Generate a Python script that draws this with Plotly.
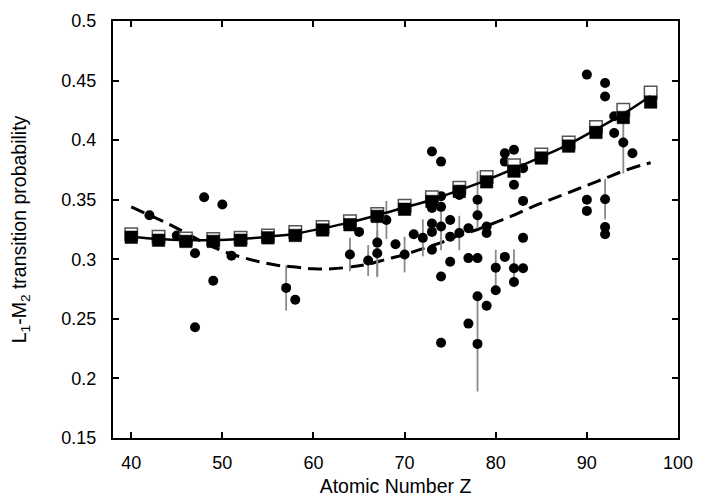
import plotly.graph_objects as go

# Theory values on a 3-Z grid
z_theory = [40, 43, 46, 49, 52, 55, 58, 61, 64, 67, 70, 73, 76, 79, 82, 85, 88, 91, 94, 97]
open_sq = [0.321, 0.319, 0.3175, 0.317, 0.318, 0.320, 0.323, 0.327, 0.332, 0.338,
           0.345, 0.352, 0.360, 0.369, 0.379, 0.388, 0.398, 0.411, 0.4255, 0.440]
filled_sq = [0.3185, 0.316, 0.315, 0.315, 0.316, 0.318, 0.320, 0.3246, 0.329, 0.336,
             0.342, 0.3485, 0.357, 0.365, 0.374, 0.385, 0.395, 0.4065, 0.419, 0.432]
solid_fit = [0.319, 0.317, 0.316, 0.316, 0.317, 0.319, 0.3215, 0.326, 0.331, 0.337,
             0.3435, 0.350, 0.358, 0.3665, 0.376, 0.386, 0.3965, 0.409, 0.422, 0.437]

# dashed curve
z_dash = [40, 42, 44, 46, 48, 50, 52, 54, 56, 58, 60, 62, 64, 66, 68, 70, 72, 74,
          76, 78, 80, 82, 84, 86, 88, 90, 92, 94, 96, 97]
dash_val = [0.344, 0.337, 0.330, 0.322, 0.314, 0.307, 0.302, 0.298, 0.295, 0.2935,
            0.292, 0.292, 0.2935, 0.296, 0.300, 0.304, 0.309, 0.314, 0.320, 0.325,
            0.331, 0.337, 0.344, 0.350, 0.356, 0.362, 0.368, 0.374, 0.379, 0.381]

# experimental points
z_exp = [42, 45, 47, 47, 48, 49, 50, 51, 57, 58,
         64, 65, 66, 67, 67, 68, 69, 70, 71, 72,
         73, 73, 73, 73, 73, 73, 74, 74, 74, 74, 74, 74,
         75, 75, 75, 76, 76, 77, 77, 77,
         78, 78, 78, 78, 78, 79, 79, 79, 80, 80,
         81, 81, 81, 82, 82, 82, 82, 83, 83, 83, 83,
         90, 90, 90, 92, 92, 92, 92, 92, 93, 93, 94, 95]
p_exp = [0.337, 0.320, 0.305, 0.243, 0.352, 0.282, 0.346, 0.303, 0.276, 0.266,
         0.304, 0.323, 0.299, 0.314, 0.305, 0.333, 0.3126, 0.304, 0.321, 0.318,
         0.3905, 0.3485, 0.343, 0.330, 0.323, 0.308, 0.382, 0.353, 0.344, 0.3275, 0.2855, 0.230,
         0.333, 0.319, 0.298, 0.354, 0.322, 0.326, 0.301, 0.246,
         0.350, 0.337, 0.301, 0.269, 0.229, 0.3275, 0.322, 0.261, 0.293, 0.274,
         0.389, 0.382, 0.302, 0.392, 0.3625, 0.2925, 0.281, 0.3765, 0.349, 0.318, 0.2925,
         0.455, 0.350, 0.3406, 0.448, 0.4367, 0.3504, 0.327, 0.321, 0.420, 0.406, 0.398, 0.389]
err_exp = [0, 0, 0, 0, 0, 0, 0, 0, 0.019, 0,
           0.014, 0, 0.013, 0.029, 0.019, 0.016, 0, 0.015, 0, 0.0155,
           0, 0, 0, 0, 0, 0, 0, 0, 0, 0.02, 0, 0,
           0, 0, 0, 0, 0.0145, 0, 0, 0,
           0.024, 0, 0, 0, 0.04, 0, 0, 0, 0.015, 0,
           0, 0, 0, 0, 0, 0.016, 0, 0, 0, 0, 0,
           0, 0, 0, 0, 0, 0.017, 0, 0, 0, 0, 0.026, 0]

fig = go.Figure()

fig.add_trace(go.Scatter(
    x=z_dash, y=dash_val, mode="lines", line_shape="spline",
    line=dict(color="black", width=3, dash="14px,7px")))

fig.add_trace(go.Scatter(
    x=z_exp, y=p_exp, mode="markers",
    marker=dict(color="black", size=10, symbol="circle"),
    error_y=dict(type="data", array=err_exp, visible=True,
                 color="#8a8a8a", thickness=1.8, width=0)))

fig.add_trace(go.Scatter(
    x=z_theory, y=open_sq, mode="markers",
    marker=dict(symbol="square", size=12.5, color="white",
                line=dict(color="#555555", width=1.5))))

fig.add_trace(go.Scatter(
    x=z_theory, y=filled_sq, mode="markers",
    marker=dict(symbol="square", size=12.5, color="black",
                line=dict(color="black", width=0.5))))

fig.add_trace(go.Scatter(
    x=z_theory, y=solid_fit, mode="lines", line_shape="spline",
    line=dict(color="black", width=2.5)))

axis_common = dict(
    showline=True, linecolor="black", linewidth=2, mirror="ticks",
    ticks="inside", ticklen=6, tickwidth=1.5, tickcolor="black",
    showgrid=False, zeroline=False, automargin=False,
    tickfont=dict(family="Liberation Sans", size=18, color="black"),
)
title_font = dict(family="Liberation Sans", size=19.5, color="black")

# page body adds an 8px offset, margins are trimmed to match
fig.update_layout(
    width=712, height=499,
    plot_bgcolor="white", paper_bgcolor="white",
    showlegend=False,
    margin=dict(l=105, r=42, t=13, b=69),
    xaxis=dict(range=[38, 100], tickvals=[40, 50, 60, 70, 80, 90, 100],
               ticklabelstandoff=7,
               title=dict(text="Atomic Number Z", standoff=8, font=title_font),
               **axis_common),
    yaxis=dict(range=[0.15, 0.5],
               tickvals=[0.15, 0.2, 0.25, 0.3, 0.35, 0.4, 0.45, 0.5],
               ticktext=["0.15", "0.2", "0.25", "0.3", "0.35", "0.4", "0.45", "0.5"],
               ticklabelstandoff=11,
               title=dict(text="L<sub>1</sub>-M<sub>2</sub> transition probability", standoff=31,
                          font=title_font),
               **axis_common),
)

fig.write_html("out.html")
